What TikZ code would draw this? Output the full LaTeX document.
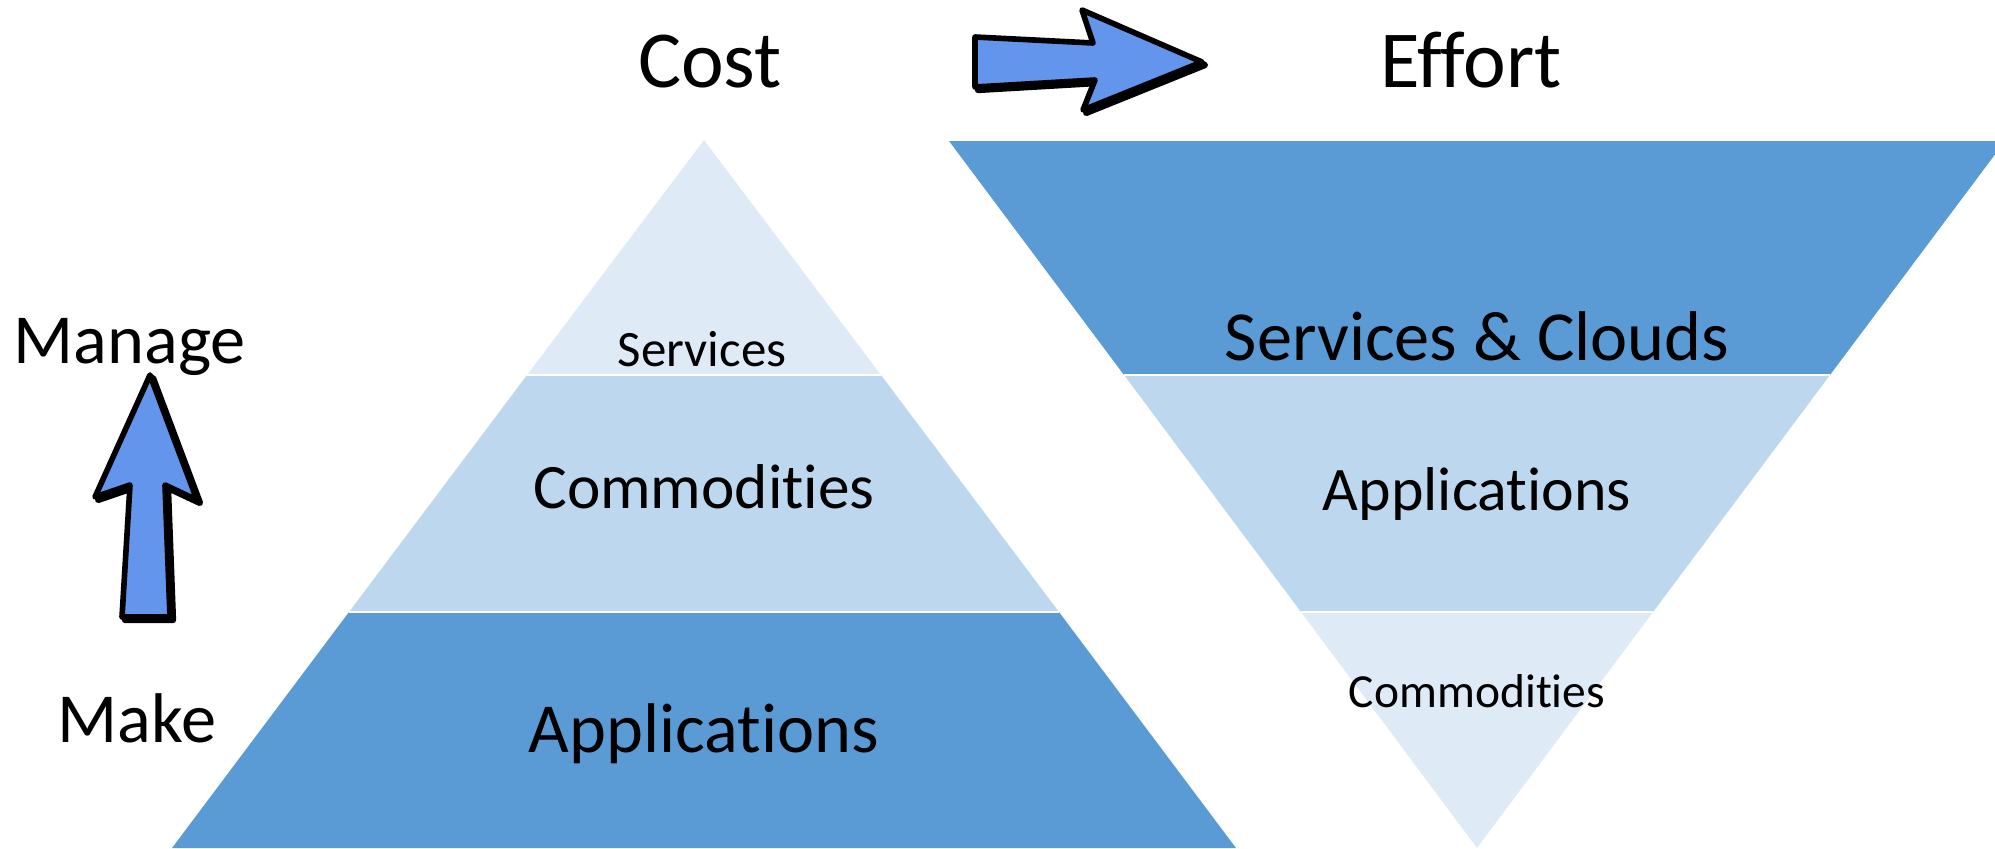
\documentclass[tikz,border=0pt]{standalone}
\usepackage{fontspec}
\setmainfont{Carlito}[Ligatures={NoCommon}]
\definecolor{darklayer}{HTML}{5B9BD5}
\definecolor{midlayer}{HTML}{BDD7EE}
\definecolor{lightlayer}{HTML}{DEEBF7}
\definecolor{arrowblue}{HTML}{6495ED}
\tikzset{
  layerline/.style={white, line width=0.6pt},
  arrowshadow/.style={fill=black, draw=black, line width=1.8pt, line join=round},
  arrowbody/.style={fill=arrowblue, draw=black, line width=1.6pt, line join=round},
  hugetext/.style={font=\fontsize{23}{27}\selectfont, inner sep=0pt},
  sidetext/.style={font=\fontsize{20}{24}\selectfont, inner sep=0pt},
  bigtext/.style={font=\fontsize{20}{24}\selectfont, inner sep=0pt},
  midtext/.style={font=\fontsize{20}{24}\selectfont, inner sep=0pt},
  lowtext/.style={font=\fontsize{17.6}{21}\selectfont, inner sep=0pt},
  smalltext/.style={font=\fontsize{18}{21}\selectfont, inner sep=0pt},
  tinytext/.style={font=\fontsize{14.5}{17}\selectfont, inner sep=0pt},
  basetext/.style={font=\fontsize{13.5}{16}\selectfont, inner sep=0pt}
}
\begin{document}
\begin{tikzpicture}[x=0.01cm, y=-0.01cm]
\clip (0,0) rectangle (1995,848);
% cost pyramid
\fill[darklayer] (172,848) -- (1236,848) -- (1059,612) -- (349,612) -- cycle;
\fill[midlayer] (349,612) -- (1059,612) -- (881,375) -- (527,375) -- cycle;
\fill[lightlayer] (527,375) -- (881,375) -- (704,140) -- cycle;
\draw[layerline] (349,612) -- (1059,612);
\draw[layerline] (527,375) -- (881,375);
% effort pyramid
\fill[darklayer] (949,141) -- (2005,141) -- (1830,375) -- (1124,375) -- cycle;
\fill[midlayer] (1124,375) -- (1830,375) -- (1653,612) -- (1301,612) -- cycle;
\fill[lightlayer] (1301,612) -- (1653,612) -- (1477,848) -- cycle;
\draw[layerline] (1124,375) -- (1830,375);
\draw[layerline] (1301,612) -- (1653,612);
% arrows
\filldraw[arrowshadow] (978,40) -- (1096,46) -- (1085,13) -- (1205,65) -- (1086,113) -- (1098,83) -- (978,90) -- cycle;
\filldraw[arrowbody] (975,37) -- (1093,43) -- (1082,10) -- (1202,62) -- (1083,110) -- (1095,80) -- (975,87) -- cycle;
\filldraw[arrowshadow] (153,378) -- (200,503) -- (168,488) -- (173,620) -- (125,620) -- (133,488) -- (98,500) -- cycle;
\filldraw[arrowbody] (150,375) -- (197,500) -- (165,485) -- (170,617) -- (122,617) -- (130,485) -- (95,497) -- cycle;
% labels
\node[hugetext, anchor=base] (cost) at (710,87) {Cost};
\node[hugetext, anchor=base] (effort) at (1471,87) {Effort};
\node[sidetext, anchor=base west] (manage) at (13,363) {Manage};
\node[sidetext, anchor=base west] (make) at (57,742) {Make};
\node[tinytext, anchor=base] (services) at (702,366) {Services};
\node[smalltext, anchor=base] (commodl) at (704,508) {Commodities};
\node[midtext, anchor=base] (applicl) at (704,752) {Applications};
\node[bigtext, anchor=base] (clouds) at (1477,360) {Services \& Clouds};
\node[lowtext, anchor=base] (applicr) at (1477,510) {Applications};
\node[basetext, anchor=base] (commodr) at (1477,707) {Commodities};
\end{tikzpicture}
\end{document}
